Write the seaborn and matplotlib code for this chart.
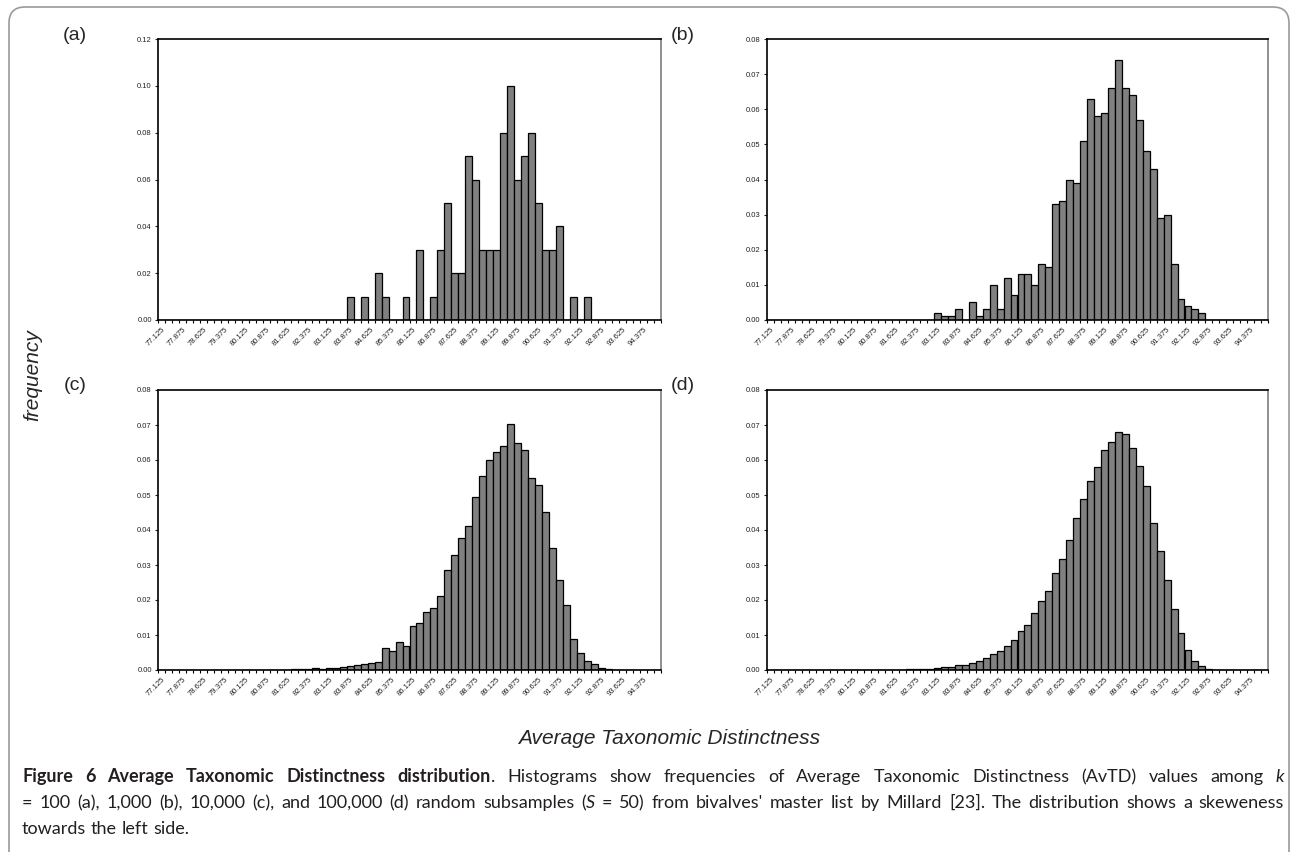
import numpy as np
import pandas as pd
import seaborn as sns
import matplotlib.pyplot as plt
from matplotlib.patches import FancyBboxPatch
from matplotlib import font_manager

### DATA ###
# class midpoints of the AvTD histogram (72 classes, 0.25 wide)
categories = np.round(np.arange(77.125, 95.0, 0.25), 3)
bin_edges = np.round(np.arange(77.0, 95.001, 0.25), 3)

# relative frequencies
freq_a = [0.0] * 27 + [0.01, 0, 0.01, 0, 0.02, 0.01, 0, 0, 0.01, 0, 0.03, 0, 0.01, 0.03,
                       0.05, 0.02, 0.02, 0.07, 0.06, 0.03, 0.03, 0.03, 0.08, 0.10, 0.06,
                       0.07, 0.08, 0.05, 0.03, 0.03, 0.04, 0, 0.01, 0, 0.01] + [0.0] * 10
freq_b = [0.0] * 24 + [0.002, 0.001, 0.001, 0.003, 0.000, 0.005, 0.001, 0.003, 0.010, 0.003,
                       0.012, 0.007, 0.013, 0.013, 0.010, 0.016, 0.015, 0.033, 0.034, 0.040,
                       0.039, 0.051, 0.063, 0.058, 0.059, 0.066, 0.074, 0.066, 0.064, 0.057,
                       0.048, 0.043, 0.029, 0.030, 0.016, 0.006, 0.004, 0.003, 0.002] + [0.0] * 9
freq_c = [0.0] * 10 + [0.0001] + [0.0] * 7 + [
    0.0001, 0.0002, 0.0002, 0.0002, 0.0005, 0.0002, 0.0005, 0.0007, 0.0008, 0.0012,
    0.0015, 0.0017, 0.0021, 0.0023, 0.0062, 0.0054, 0.0081, 0.0070, 0.0126, 0.0133,
    0.0165, 0.0176, 0.0211, 0.0286, 0.0329, 0.0378, 0.0411, 0.0493, 0.0553, 0.0600,
    0.0622, 0.0640, 0.0703, 0.0648, 0.0630, 0.0548, 0.0528, 0.0451, 0.0350, 0.0256,
    0.0187, 0.0090, 0.0049, 0.0026, 0.0017, 0.0005, 0.0002] + [0.0] * 7
freq_d = [0.0] * 4 + [0.0001] * 16 + [
    0.0002, 0.0003, 0.0004, 0.0004, 0.0006, 0.0009, 0.0010, 0.0013, 0.0014, 0.0020,
    0.0026, 0.0033, 0.0047, 0.0054, 0.0070, 0.0087, 0.0112, 0.0130, 0.0164, 0.0197,
    0.0225, 0.0277, 0.0317, 0.0371, 0.0433, 0.0490, 0.0540, 0.0581, 0.0629, 0.0651,
    0.0679, 0.0674, 0.0635, 0.0583, 0.0526, 0.0421, 0.0339, 0.0256, 0.0175, 0.0106,
    0.0056, 0.0027, 0.0011, 0.0004, 0.0001] + [0.0] * 7

panel_names = ['(a)', '(b)', '(c)', '(d)']
panel_freqs = [freq_a, freq_b, freq_c, freq_d]
panel_ymax = [0.12, 0.08, 0.08, 0.08]
panel_ystep = [0.02, 0.01, 0.01, 0.01]
tick_labels = ['%.3f' % c for c in categories[::3]]

xlabel_text = 'Average Taxonomic Distinctness'
ylabel_text = 'frequency'

### STYLE ###
sns.set_style('white')
plt.rcParams['font.family'] = ['Liberation Sans', 'DejaVu Sans']

W, H = 1292, 852
fig = plt.figure(figsize=(W / 100, H / 100), dpi=100)

def px(x, y):
    return x / W, 1 - y / H

# axes boxes in pixels: left, top, right, bottom
boxes = [(158, 39, 661, 320), (767, 39, 1268, 320),
         (158, 390, 661, 670), (767, 390, 1268, 670)]
label_pos = [(75, 35), (683, 35), (75, 385), (683, 385)]

for name, freq, ymax, ystep, box, lp in zip(panel_names, panel_freqs, panel_ymax,
                                             panel_ystep, boxes, label_pos):
    l, t, r, b = box
    ax = fig.add_axes([l / W, 1 - b / H, (r - l) / W, (b - t) / H])
    df = pd.DataFrame({'avtd': categories, 'freq': freq})
    sns.histplot(data=df, x='avtd', weights='freq', binwidth=0.25,
                 binrange=(bin_edges[0], bin_edges[-1]), ax=ax,
                 color='#808080', edgecolor='black', linewidth=0.9, alpha=1)
    ax.set_xlim(bin_edges[0], bin_edges[-1])
    ax.set_ylim(0, ymax)
    yt = np.arange(0, ymax + ystep / 2, ystep)
    ax.set_yticks(yt)
    ax.set_yticklabels(['%.2f' % v for v in yt])
    ax.set_xticks(categories[::3])
    ax.set_xticklabels(tick_labels, rotation=45, ha='right', rotation_mode='anchor')
    ax.set_xticks(bin_edges, minor=True)
    ax.tick_params(axis='x', which='major', length=0, labelsize=5.5, pad=4, colors='#222222')
    ax.tick_params(axis='x', which='minor', length=2.5, width=0.8, color='black', bottom=True)
    ax.tick_params(axis='y', which='major', length=2.5, width=0.8, labelsize=5.5, pad=2,
                   left=True, colors='#222222')
    ax.set_xlabel('')
    ax.set_ylabel('')
    for side in ['left', 'bottom', 'top']:
        ax.spines[side].set_color('black')
        ax.spines[side].set_linewidth(1.2)
    ax.spines['right'].set_color('#888888')
    ax.spines['right'].set_linewidth(1.3)
    fig.text(*px(*lp), name, fontsize=14, ha='center', va='center')

fig.text(*px(33, 375), ylabel_text, fontsize=15, fontstyle='italic', rotation=90,
         ha='center', va='center')
fig.text(*px(669, 738), xlabel_text, fontsize=15, fontstyle='italic',
         ha='center', va='center')

# frame around the figure
frame = FancyBboxPatch((9, -40), 1280, 885, boxstyle='round,pad=0,rounding_size=16',
                       transform=None, facecolor='none', edgecolor='#9a9a9a', linewidth=1.2)
fig.add_artist(frame)

### CAPTION ###
avail = {f.name for f in font_manager.fontManager.ttflist}
cap_family, cap_stretch = 'Liberation Sans', 'normal'
for cand in ['Lato', 'Open Sans', 'Noto Sans', 'Roboto']:
    if cand in avail:
        cap_family = cand
        break

B, N, I = ('bold', 'normal'), ('normal', 'normal'), ('normal', 'italic')
line1 = [(w, B, True) for w in 'Figure 6 Average Taxonomic Distinctness distribution'.split()]
line1 += [('.', N, False)]
line1 += [(w, N, True) for w in ('Histograms show frequencies of Average Taxonomic '
                                 'Distinctness (AvTD) values among').split()]
line1 += [('k', I, True)]
line2 = [(w, N, True) for w in ('= 100 (a), 1,000 (b), 10,000 (c), and 100,000 (d) random '
                                'subsamples').split()]
line2 += [('(', N, True), ('S', I, False)]
line2 += [(w, N, True) for w in ("= 50) from bivalves' master list by Millard [23]. The "
                                 "distribution shows a skeweness").split()]
line3 = [(w, N, True) for w in 'towards the left side.'.split()]

renderer = fig.canvas.get_renderer()

def make_tokens(tokens, fs):
    out = []
    for word, (weight, style), gap in tokens:
        t = fig.text(0, 0, word, fontsize=fs, fontweight=weight, fontstyle=style,
                     family=cap_family, fontstretch=cap_stretch, va='baseline',
                     color='#231f20')
        out.append((t, t.get_window_extent(renderer).width, gap))
    return out

def space_width(fs):
    t1 = fig.text(0, 0, 'a a', fontsize=fs, family=cap_family, fontstretch=cap_stretch)
    t2 = fig.text(0, 0, 'aa', fontsize=fs, family=cap_family, fontstretch=cap_stretch)
    w = t1.get_window_extent(renderer).width - t2.get_window_extent(renderer).width
    t1.remove(); t2.remove()
    return w

def natural_width(tokens, fs):
    toks = make_tokens(tokens, fs)
    sp = space_width(fs)
    w = sum(tw for _, tw, _ in toks) + sp * sum(1 for _, _, g in toks[1:] if g)
    for t, _, _ in toks:
        t.remove()
    return w

x_left, x_right = 22, 1284
fs0 = 11.0
fs = fs0 * (x_right - x_left) / natural_width(line1, fs0) * 0.99
fs = max(min(fs, 13.0), 10.5)

def place(tokens, y, justify):
    toks = make_tokens(tokens, fs)
    sp = space_width(fs)
    ngaps = sum(1 for _, _, g in toks[1:] if g)
    total = sum(tw for _, tw, _ in toks) + sp * ngaps
    gap = sp + ((x_right - x_left - total) / ngaps if justify and ngaps else 0)
    x = x_left
    for i, (t, tw, g) in enumerate(toks):
        if i > 0 and g:
            x += gap
        t.set_position(px(x, y))
        x += tw

place(line1, 782, True)
place(line2, 808, True)
place(line3, 834, False)

fig.savefig('out.png', dpi=100)
